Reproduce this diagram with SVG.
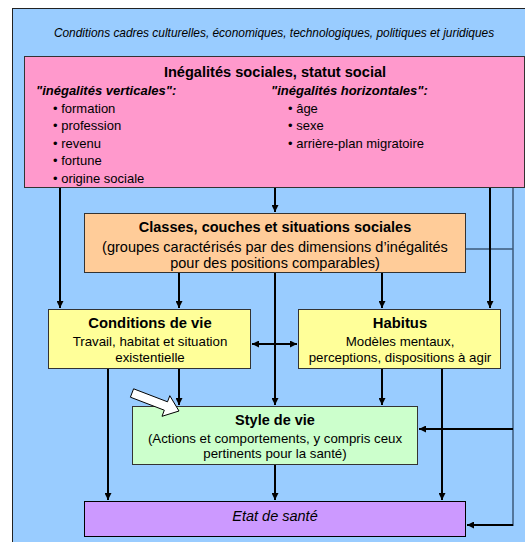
<svg xmlns="http://www.w3.org/2000/svg" width="525" height="542" viewBox="0 0 525 542">
<defs>
<style>
.box{stroke:#333;stroke-width:1}
.t{font-family:"Liberation Sans",Arial,sans-serif;fill:#000}
.b{font-weight:bold}
.i{font-style:italic}
.c{text-anchor:middle}
.ln{stroke:#000;stroke-width:2;fill:none}
.thin{stroke:#3d5a7a;stroke-width:1.5;fill:none}
</style>
<marker id="ah" viewBox="0 0 10 10" refX="10" refY="5" markerWidth="7" markerHeight="7" orient="auto-start-reverse" markerUnits="userSpaceOnUse">
<path d="M0,0 L10,5 L0,10 z" fill="#000"/>
</marker>
</defs>
<rect width="525" height="542" fill="#fff"/>
<g id="frame">
<rect x="12.5" y="8.5" width="520" height="540" fill="#99ccff" stroke="#222" stroke-width="1"/>
<text class="t i c" x="274" y="37" font-size="11.9">Conditions cadres culturelles, économiques, technologiques, politiques et juridiques</text>
</g>
<g id="connectors">
<line class="thin" x1="513" y1="188" x2="513" y2="526"/>
<line class="thin" x1="466" y1="249" x2="513" y2="249"/>
<line class="ln" x1="60" y1="188" x2="60" y2="308" marker-end="url(#ah)"/>
<line class="ln" x1="275" y1="188" x2="275" y2="212" marker-end="url(#ah)"/>
<line class="ln" x1="490" y1="188" x2="490" y2="308" marker-end="url(#ah)"/>
<line class="ln" x1="179" y1="273" x2="179" y2="308" marker-end="url(#ah)"/>
<line class="ln" x1="382" y1="273" x2="382" y2="308" marker-end="url(#ah)"/>
<line class="ln" x1="275" y1="273" x2="275" y2="405" marker-end="url(#ah)"/>
<line class="ln" x1="252" y1="344" x2="297" y2="344" marker-start="url(#ah)" marker-end="url(#ah)"/>
<line class="ln" x1="179" y1="369" x2="179" y2="405" marker-end="url(#ah)"/>
<line class="ln" x1="382" y1="369" x2="382" y2="405" marker-end="url(#ah)"/>
<line class="ln" x1="108" y1="369" x2="108" y2="500" marker-end="url(#ah)"/>
<line class="ln" x1="442" y1="369" x2="442" y2="500" marker-end="url(#ah)"/>
<line class="ln" x1="275" y1="465" x2="275" y2="500" marker-end="url(#ah)"/>
<line class="ln" x1="513" y1="429" x2="419" y2="429" marker-end="url(#ah)"/>
<line class="ln" x1="513" y1="525" x2="467" y2="525" marker-end="url(#ah)"/>
</g>
<g id="inegalites">
<rect class="box" x="24.5" y="56.5" width="500" height="131" fill="#ff99cc"/>
<text class="t b c" x="275" y="77" font-size="14.6">Inégalités sociales, statut social</text>
<text class="t b i" x="36" y="95" font-size="13">"inégalités verticales":</text>
<text class="t b i" x="271" y="95" font-size="13">"inégalités horizontales":</text>
<g class="t" font-size="13">
<text x="53" y="112.5">• formation</text>
<text x="53" y="130">• profession</text>
<text x="53" y="147.5">• revenu</text>
<text x="53" y="165">• fortune</text>
<text x="53" y="182.5">• origine sociale</text>
<text x="288" y="112.5">• âge</text>
<text x="288" y="130">• sexe</text>
<text x="288" y="147.5">• arrière-plan migratoire</text>
</g>
</g>
<g id="classes">
<rect class="box" x="84.5" y="213.5" width="381" height="59" fill="#ffcc99"/>
<text class="t b c" x="275" y="232" font-size="14.5">Classes, couches et situations sociales</text>
<text class="t c" x="275" y="251.5" font-size="14.5">(groupes caractérisés par des dimensions d’inégalités</text>
<text class="t c" x="275" y="268" font-size="14.5">pour des positions comparables)</text>
</g>
<g id="conditions">
<rect class="box" x="48.5" y="309.5" width="202" height="59" fill="#ffff99"/>
<text class="t b c" x="150" y="328" font-size="14.8">Conditions de vie</text>
<text class="t c" x="150" y="346" font-size="13.3">Travail, habitat et situation</text>
<text class="t c" x="150" y="362" font-size="13.3">existentielle</text>
</g>
<g id="habitus">
<rect class="box" x="298.5" y="309.5" width="202" height="59" fill="#ffff99"/>
<text class="t b c" x="400" y="328" font-size="14.8">Habitus</text>
<text class="t c" x="400" y="346" font-size="13.3">Modèles mentaux,</text>
<text class="t c" x="400" y="362" font-size="13.3">perceptions, dispositions à agir</text>
</g>
<g id="style">
<rect class="box" x="132.5" y="406.5" width="285" height="58" fill="#ccffcc"/>
<text class="t b c" x="275" y="424.5" font-size="14.5">Style de vie</text>
<text class="t c" x="275" y="443" font-size="13.3">(Actions et comportements, y compris ceux</text>
<text class="t c" x="275" y="458" font-size="13.3">pertinents pour la santé)</text>
</g>
<g id="etat">
<rect x="84.5" y="501.5" width="381" height="35" fill="#cc99ff" stroke="#000" stroke-width="1"/>
<text class="t i c" x="275" y="520.5" font-size="14.5">Etat de santé</text>
</g>
<g id="block-arrow">
<path d="M133.6,388.8 L167.5,401.8 L169.8,395.7 L179,411 L162,416.3 L164.3,410.2 L130.4,397.2 z" fill="#fff" stroke="#000" stroke-width="1"/>
</g>
</svg>
